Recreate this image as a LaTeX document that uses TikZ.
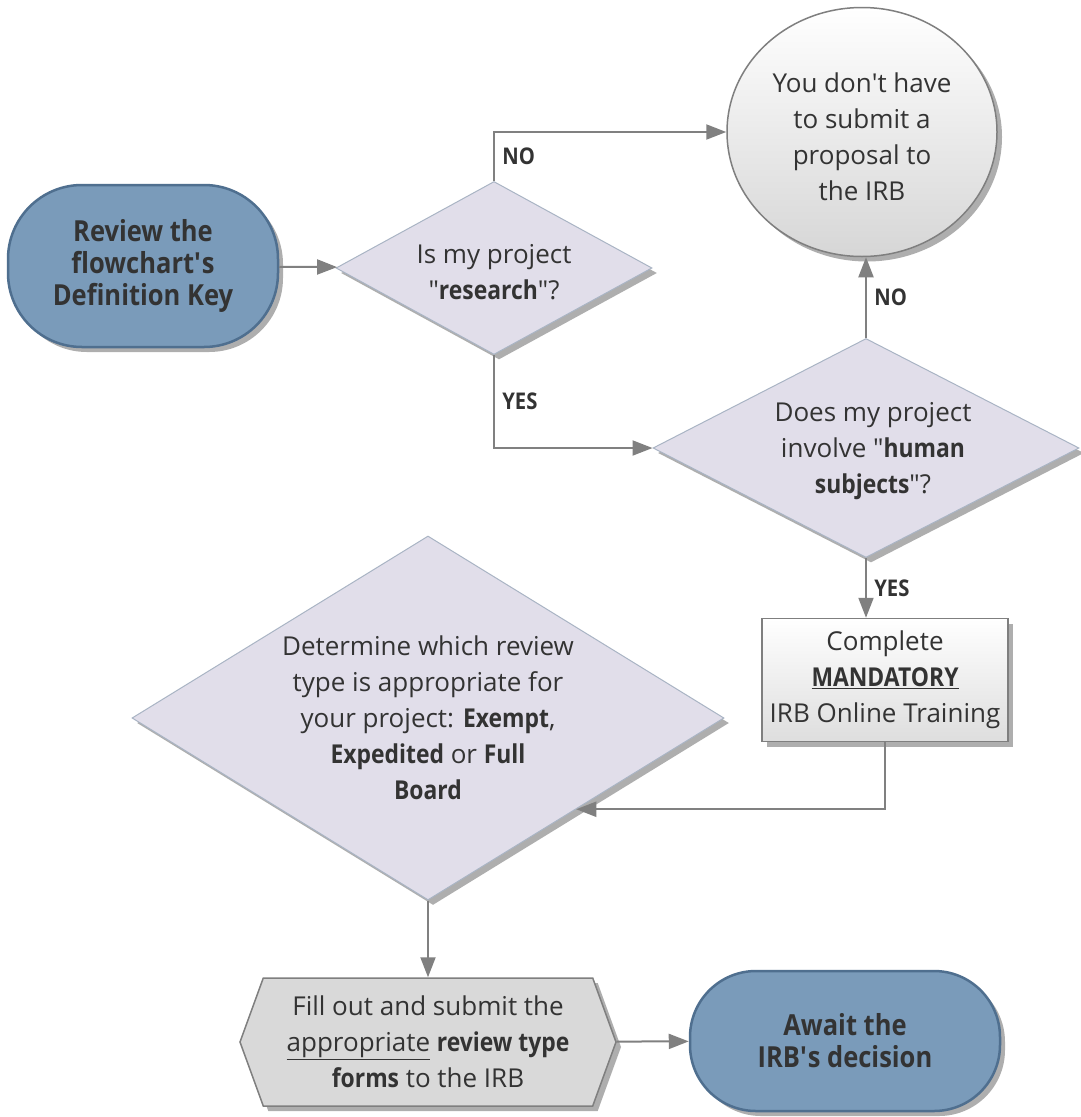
\documentclass[tikz,border=0pt]{standalone}
\usepackage{fontspec}
\setmainfont{Open Sans}[BoldFeatures={FakeStretch=0.88}]
\usetikzlibrary{shapes.geometric,shapes.symbols,arrows.meta,shadows}
\definecolor{termfill}{HTML}{7A9BBA}
\definecolor{termline}{HTML}{4F6F8F}
\definecolor{diafill}{HTML}{E1DEEA}
\definecolor{dialine}{HTML}{A9B4C4}
\definecolor{boxline}{HTML}{7F7F7F}
\definecolor{hexfill}{HTML}{D9D9D9}
\definecolor{flowgray}{HTML}{808080}
\definecolor{ink}{HTML}{333333}
\tikzset{
  shade/.style={drop shadow={shadow xshift=5pt,shadow yshift=-5pt,opacity=.45,fill=black!70}},
  txt/.style={font=\fontsize{26pt}{36pt}\selectfont,text=ink,align=center,inner sep=0pt},
  terminal/.style={draw=termline,line width=2.5pt,fill=termfill,shade,inner sep=0pt,
    font=\fontsize{29pt}{32pt}\selectfont\bfseries,text=ink,align=center},
  decision/.style={diamond,draw=dialine,line width=1pt,fill=diafill,shade,inner sep=0pt},
  stopnode/.style={ellipse,draw=boxline,line width=1.5pt,top color=white,bottom color=black!16,shade,inner sep=0pt},
  process/.style={draw=boxline,line width=1.5pt,top color=white,bottom color=black!13,shade,inner sep=0pt,txt},
  prep/.style={signal,signal to=west and east,signal pointer angle=140,draw=boxline,line width=1.5pt,fill=hexfill,shade,inner sep=0pt,txt},
  flow/.style={draw=flowgray,line width=2pt,-{Triangle[length=20pt,width=15pt]}},
  yesno/.style={font=\fontsize{23pt}{23pt}\selectfont\bfseries,text=ink}
}
\begin{document}
\begin{tikzpicture}[x=1pt,y=-1pt]
\useasboundingbox (0,0) rectangle (1080,1117);
\fill[white] (0,0) rectangle (1080,1117);
\node[terminal,rounded corners=74pt,minimum width=270pt,minimum height=162pt] (review) at (143,266) {Review the\\flowchart\textquotesingle s\\Definition Key};
\node[decision,minimum width=316pt,minimum height=173pt] (research) at (494,268) {};
\node[txt] (researchtxt) at (494,272) {Is my project\\\textquotedbl\textbf{research}\textquotedbl?};
\node[stopnode,minimum width=270pt,minimum height=249pt] (noproposal) at (862,132) {};
\node[txt] (noproposaltxt) at (862,137) {You don\textquotesingle t have\\to submit a\\proposal to\\the IRB};
\node[decision,minimum width=426pt,minimum height=219pt] (humansubj) at (866,448) {};
\node[txt] (humansubjtxt) at (873,451) {Does my project\\involve \textquotedbl\textbf{human}\\\textbf{subjects}\textquotedbl?};
\node[process,minimum width=246pt,minimum height=123pt] (training) at (885,680) {Complete\\\underline{\textbf{MANDATORY}}\\IRB Online Training};
\node[decision,minimum width=592pt,minimum height=364pt] (reviewtype) at (428,718) {};
\node[txt] (reviewtypetxt) at (reviewtype) {Determine which review\\type is appropriate for\\your project: \textbf{Exempt},\\\textbf{Expedited} or \textbf{Full}\\\textbf{Board}};
\node[prep,minimum width=376pt,minimum height=128pt] (forms) at (428,1042) {Fill out and submit the\\\underline{appropriate} \textbf{review type}\\\textbf{forms} to the IRB};
\node[terminal,rounded corners=66pt,minimum width=310pt,minimum height=140pt] (await) at (845,1041) {Await the\\IRB\textquotesingle s decision};
\draw[flow] (review) -- (research);
\draw[flow] (research.north) |- node[yesno,pos=.25,right=4pt]{NO} (noproposal.west);
\draw[flow] (research.south) |- node[yesno,pos=.25,right=4pt]{YES} (humansubj.west);
\draw[flow] (humansubj.north) -- node[yesno,right=4pt]{NO} (humansubj.north |- noproposal.south);
\draw[flow] (humansubj.south) -- node[yesno,right=4pt]{YES} (humansubj.south |- training.north);
\draw[flow] (training.south) |- (reviewtype.south east);
\draw[flow] (reviewtype.south) -- (forms.north);
\draw[flow] (forms) -- (await);
\end{tikzpicture}
\end{document}
